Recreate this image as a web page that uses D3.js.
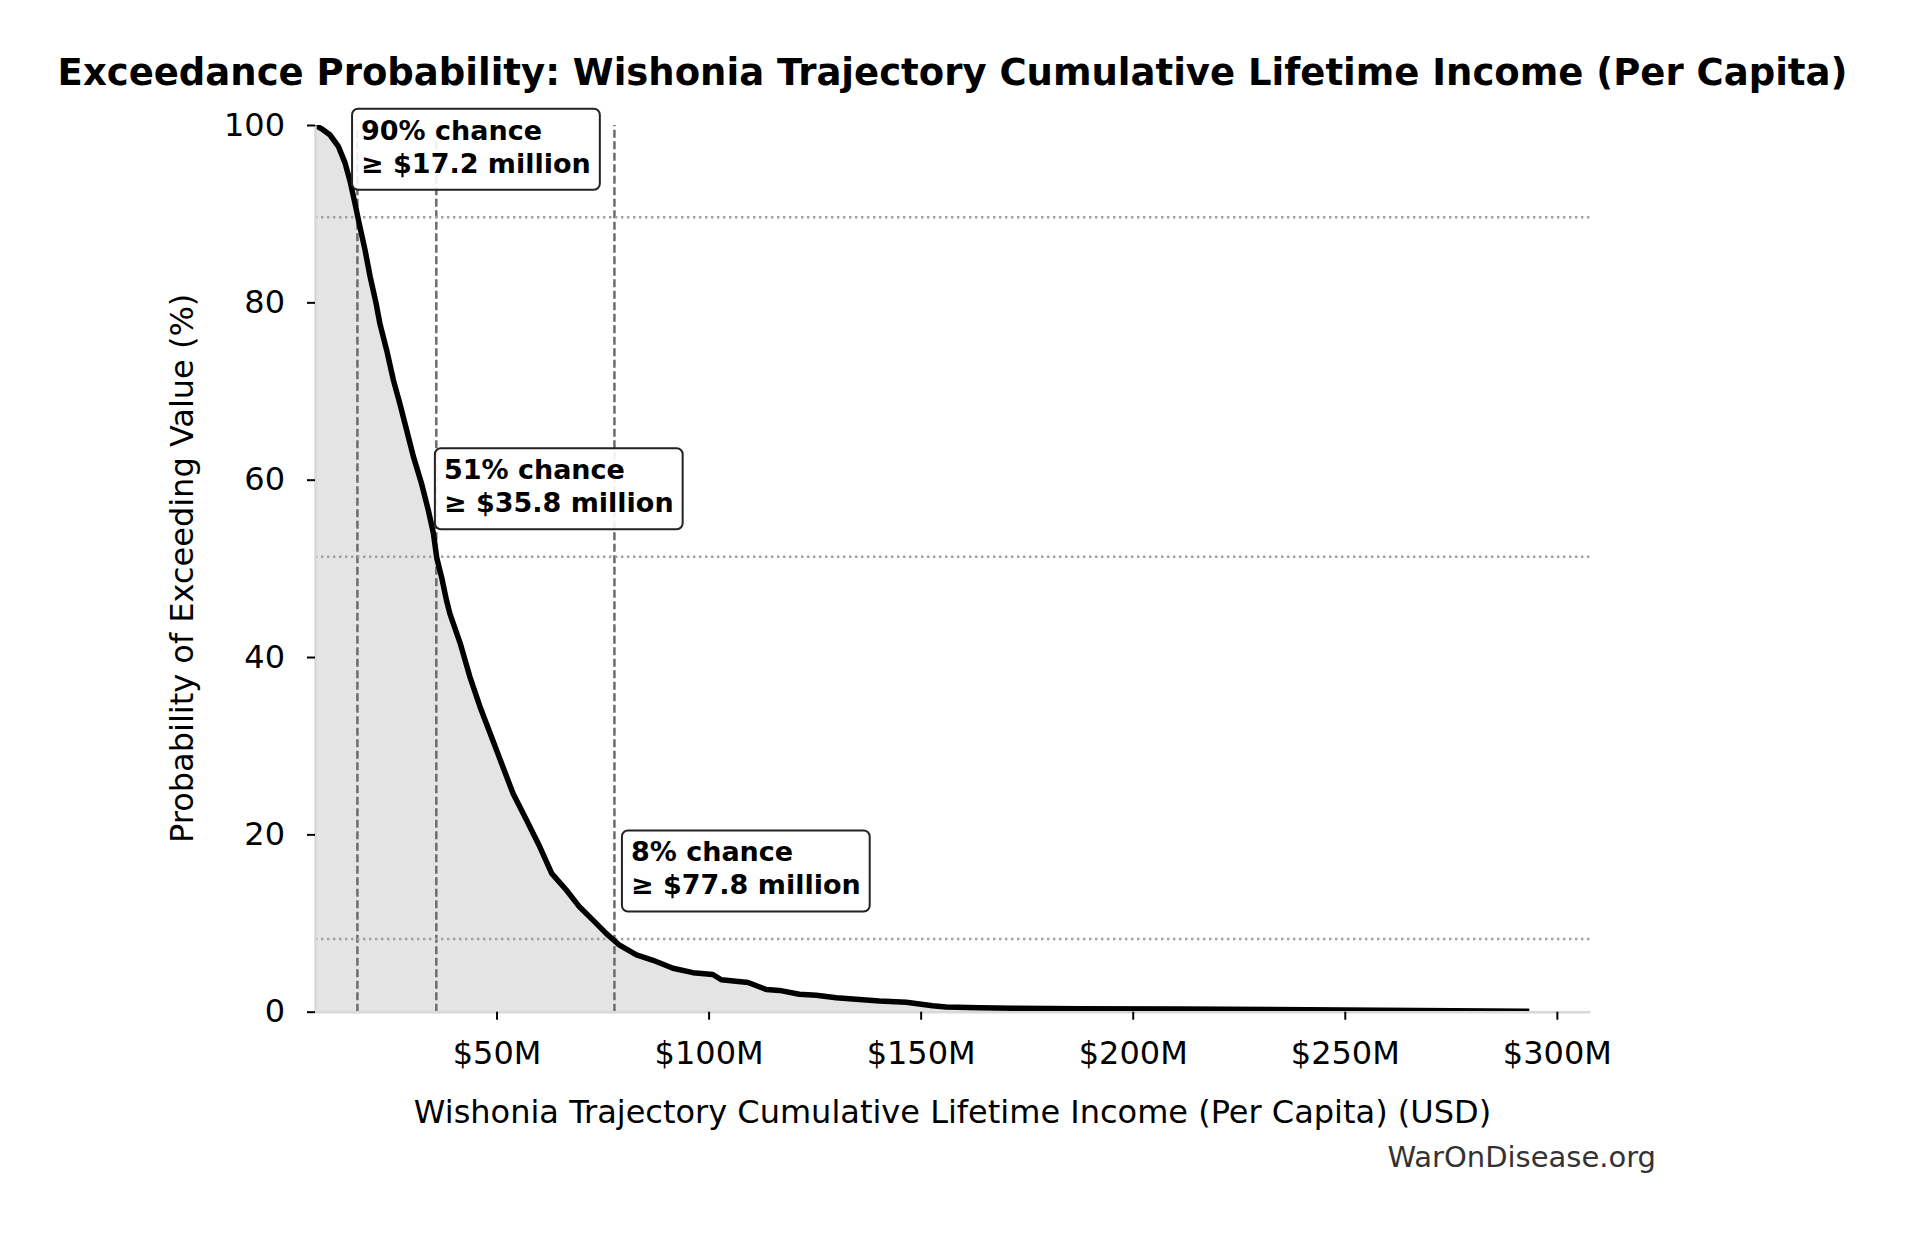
<!DOCTYPE html>
<html>
<head>
<meta charset="utf-8">
<script src="https://cdn.jsdelivr.net/npm/d3@7"></script>
<style>
  body { margin: 0; background: #fff; }
  svg text { font-family: "DejaVu Sans", sans-serif; }
</style>
</head>
<body>
<div id="chart"></div>
<script>
// Exceedance curve (income in $M, probability in %)
const income = [7.2, 9.0, 10.7, 12.7, 14.3, 15.5, 16.6, 17.8, 19.0, 20.2, 21.6, 22.5, 24.1, 25.7,
  27.2, 28.8, 30.4, 32.3, 33.9, 35.1, 35.9, 37.1, 38.2, 39.0, 41.4, 43.7, 46.1, 48.8, 51.2, 53.9,
  57.1, 60.2, 63.0, 66.5, 69.6, 72.8, 75.9, 79.0, 83.0, 86.9, 91.6, 96.3, 101.0, 103.0, 109.3,
  113.6, 116.7, 121.4, 125.4, 130.1, 134.8, 140.3, 146.6, 152.8, 156.0, 163.8, 171.7, 187.4,
  210.9, 250.0, 293.5];
const exceedPct = [100, 99.5, 98.9, 97.6, 95.7, 93.6, 91.2, 88.5, 85.9, 82.9, 79.9, 77.6, 74.6, 71.2,
  68.6, 65.6, 62.6, 59.6, 56.6, 54.0, 51.2, 48.9, 46.4, 44.9, 41.6, 37.8, 34.4, 31.0, 28.0, 24.6,
  21.6, 18.6, 15.6, 13.7, 11.8, 10.3, 8.8, 7.5, 6.4, 5.8, 4.9, 4.4, 4.2, 3.6, 3.3,
  2.5, 2.4, 1.96, 1.85, 1.58, 1.4, 1.21, 1.06, 0.68, 0.53, 0.45, 0.38, 0.34,
  0.3, 0.2, 0.05];

// Highlighted thresholds
const markerIncome = [17.2, 35.8, 77.8];
const markerPct = [89.6, 51.3, 8.2];

const xTicks = [50, 100, 150, 200, 250, 300];
const yTicks = [0, 20, 40, 60, 80, 100];

const width = 1905, height = 1233;
const margin = { left: 315, right: 315, top: 125, bottom: 221.3 };
const plotW = width - margin.left - margin.right;
const plotH = height - margin.top - margin.bottom;

const svg = d3.select('#chart').append('svg')
    .attr('width', width)
    .attr('height', height)
    .style('background', '#fff');

const xMin = d3.min(income), xMax = d3.max(income);
const x = d3.scaleLinear()
    .domain([xMin, xMax + 0.05 * (xMax - xMin)])
    .range([0, plotW]);
const y = d3.scaleLinear().domain([0, 100]).range([plotH, 0]);

const g = svg.append('g').attr('transform', `translate(${margin.left},${margin.top})`);

svg.append('defs').append('clipPath').attr('id', 'plot-clip')
  .append('rect').attr('width', plotW).attr('height', plotH);

const points = income.map((v, i) => [v, exceedPct[i]]);
const plot = g.append('g').attr('clip-path', 'url(#plot-clip)');

// shaded area under the curve
plot.append('path')
    .datum(points)
    .attr('fill', '#e4e4e4')
    .attr('d', d3.area().x(d => x(d[0])).y0(y(0)).y1(d => y(d[1])));

// axes
const xAxis = g.append('g')
    .attr('transform', `translate(0,${plotH})`)
    .call(d3.axisBottom(x).tickValues(xTicks).tickSize(8).tickSizeOuter(0).tickPadding(22)
      .tickFormat(d => `$${d}M`));
const yAxis = g.append('g')
    .call(d3.axisLeft(y).tickValues(yTicks).tickSize(8).tickSizeOuter(0).tickPadding(22));

[xAxis, yAxis].forEach(a => {
  a.select('.domain').attr('stroke', '#d8d8d8').attr('stroke-width', 2.5);
  a.selectAll('.tick line').attr('stroke', '#000').attr('stroke-width', 2);
  a.selectAll('.tick text').attr('font-size', 32).attr('fill', '#000')
    .style('font-family', '"DejaVu Sans", sans-serif');
});

// reference lines
plot.selectAll('line.vline')
  .data(markerIncome)
  .enter().append('line')
    .attr('class', 'vline')
    .attr('x1', d => x(d)).attr('x2', d => x(d))
    .attr('y1', y(0)).attr('y2', y(100))
    .attr('stroke', '#6c6c6c')
    .attr('stroke-width', 2.5)
    .attr('stroke-dasharray', '8,3.5');

plot.selectAll('line.hline')
  .data(markerPct)
  .enter().append('line')
    .attr('class', 'hline')
    .attr('x1', 0).attr('x2', plotW)
    .attr('y1', d => y(d)).attr('y2', d => y(d))
    .attr('stroke', '#a0a0a0')
    .attr('stroke-width', 2.4)
    .attr('stroke-dasharray', '2.4,3.6');

// the curve itself
plot.append('path')
    .datum(points)
    .attr('fill', 'none')
    .attr('stroke', '#000')
    .attr('stroke-width', 5.5)
    .attr('stroke-linejoin', 'round')
    .attr('d', d3.line().x(d => x(d[0])).y(d => y(d[1])));

// annotation boxes
markerIncome.forEach((v, i) => {
  const p = markerPct[i];
  const left = x(v * 1.05);
  const bottom = y(p) - 27.5;
  const top = bottom - 81;
  const box = g.append('g');
  const rect = box.append('rect');
  const lines = [`${Math.round(p)}% chance`, `\u2265 $${v.toFixed(1)} million`];
  let maxW = 0;
  lines.forEach((t, k) => {
    const txt = box.append('text')
        .attr('x', left)
        .attr('y', top + 31 + k * 33)
        .attr('font-size', 27)
        .attr('font-weight', 'bold')
        .attr('fill', '#000')
        .text(t);
    maxW = Math.max(maxW, txt.node().getComputedTextLength());
  });
  rect.attr('x', left - 9).attr('y', top)
      .attr('width', maxW + 18).attr('height', 81)
      .attr('rx', 6).attr('ry', 6)
      .attr('fill', '#fff').attr('fill-opacity', 0.9)
      .attr('stroke', '#222').attr('stroke-width', 2);
});

// titles and labels
svg.append('text')
    .attr('x', width / 2).attr('y', 85)
    .attr('text-anchor', 'middle')
    .attr('font-size', 37).attr('font-weight', 'bold')
    .text('Exceedance Probability: Wishonia Trajectory Cumulative Lifetime Income (Per Capita)');

svg.append('text')
    .attr('x', margin.left + plotW / 2).attr('y', 1123)
    .attr('text-anchor', 'middle')
    .attr('font-size', 32)
    .text('Wishonia Trajectory Cumulative Lifetime Income (Per Capita) (USD)');

svg.append('text')
    .attr('transform', `translate(193,${margin.top + plotH / 2}) rotate(-90)`)
    .attr('text-anchor', 'middle')
    .attr('font-size', 32)
    .text('Probability of Exceeding Value (%)');

svg.append('text')
    .attr('x', 1656).attr('y', 1167)
    .attr('text-anchor', 'end')
    .attr('font-size', 29)
    .attr('fill', '#333')
    .text('WarOnDisease.org');
</script>
</body>
</html>
